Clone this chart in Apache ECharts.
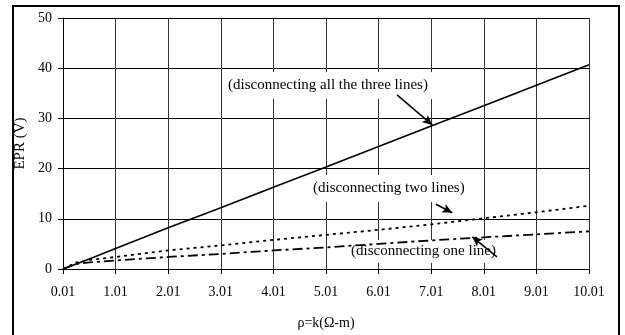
<!DOCTYPE html>
<html>
<head>
<meta charset="utf-8">
<script src="https://cdn.jsdelivr.net/npm/echarts@6/dist/echarts.min.js"></script>
<style>
  html, body { margin: 0; padding: 0; background: #fff; }
  #main { width: 625px; height: 335px; }
</style>
</head>
<body>
<div id="main"></div>
<script>
// soil resistivity (k ohm-m) and EPR (V)
var rho = [0.01, 0.26, 0.51, 1.01, 2.01, 3.01, 4.01, 5.01, 6.01, 7.01, 8.01, 9.01, 10.01];
var allThree = [0, 1.0, 2.0, 4.1, 8.2, 12.2, 16.3, 20.3, 24.4, 28.5, 32.5, 36.6, 40.7];
var twoLines = [0, 1.3, 1.8, 2.4, 3.7, 4.7, 5.8, 6.8, 7.8, 8.9, 10.1, 11.3, 12.6];
var oneLine = [0, 1.0, 1.3, 1.7, 2.4, 3.0, 3.7, 4.3, 5.0, 5.7, 6.3, 6.9, 7.5];
var xTicks = ['0.01', '1.01', '2.01', '3.01', '4.01', '5.01', '6.01', '7.01', '8.01', '9.01', '10.01'];

var font = 'Liberation Serif';
var chart = echarts.init(document.getElementById('main'));

// x is drawn shifted by 0.01 so ticks fall on 0, 1, 2 ...
function pts(vals) {
  return rho.map(function (r, i) { return [+(r - 0.01).toFixed(2), vals[i]]; });
}

function arrow(a, b) {
  return {
    silent: true,
    symbol: ['none', 'arrow'],
    symbolSize: [7, 10],
    label: { show: false },
    lineStyle: { color: '#000', type: 'solid', width: 1.5 },
    data: [[{ coord: a }, { coord: b }]]
  };
}

var option = {
  animation: false,
  textStyle: { fontFamily: font },
  grid: { left: 63, right: 36, top: 18, bottom: 66 },
  xAxis: {
    type: 'value', min: 0, max: 10, interval: 1,
    name: 'ρ=k(Ω-m)', nameLocation: 'middle', nameGap: 47,
    nameTextStyle: { fontFamily: font, fontSize: 14, color: '#000' },
    axisLine: { lineStyle: { color: '#000', width: 1 } },
    axisTick: { show: true, length: 5, lineStyle: { color: '#000' } },
    axisLabel: {
      fontFamily: font, fontSize: 14, color: '#000', margin: 16,
      formatter: function (v) { return xTicks[Math.round(v)]; }
    },
    splitLine: { show: true, lineStyle: { color: '#333', width: 1 } }
  },
  yAxis: {
    type: 'value', min: 0, max: 50, interval: 10,
    name: 'EPR (V)', nameLocation: 'middle', nameGap: 34,
    nameTextStyle: { fontFamily: font, fontSize: 15, color: '#000' },
    axisLine: { show: true, lineStyle: { color: '#000', width: 1 } },
    axisTick: { show: true, length: 5, lineStyle: { color: '#000' } },
    axisLabel: { fontFamily: font, fontSize: 14, color: '#000', margin: 11 },
    splitLine: { show: true, lineStyle: { color: '#000', width: 1 } }
  },
  series: [
    {
      name: 'all three', type: 'line', data: pts(allThree), showSymbol: false,
      lineStyle: { color: '#000', width: 1.6 },
      markLine: arrow([6.35, 34.7], [7.02, 28.7])
    },
    {
      name: 'two', type: 'line', data: pts(twoLines), showSymbol: false,
      lineStyle: { color: '#000', width: 1.8, type: [3, 4] },
      markLine: arrow([7.09, 12.9], [7.40, 11.2])
    },
    {
      name: 'one', type: 'line', data: pts(oneLine), showSymbol: false,
      lineStyle: { color: '#000', width: 1.8, type: [10, 4, 3, 4] },
      markLine: arrow([8.25, 2.4], [7.78, 6.4])
    }
  ],
  graphic: [
    {
      type: 'rect', z: 0, silent: true,
      shape: { x: 13, y: 6, width: 606, height: 340 },
      style: { fill: 'none', stroke: '#000', lineWidth: 2 }
    },
    {
      type: 'text', z: 3, left: 222, top: 72, silent: true,
      style: {
        text: '(disconnecting all the three lines)', font: '15px "Liberation Serif"',
        fill: '#000', backgroundColor: '#fff', padding: [6, 6, 6, 6]
      }
    },
    {
      type: 'text', z: 3, left: 307, top: 175, silent: true,
      style: {
        text: '(disconnecting two lines)', font: '15px "Liberation Serif"',
        fill: '#000', backgroundColor: '#fff', padding: [6, 6, 6, 6]
      }
    },
    {
      type: 'text', z: 3, left: 345, top: 240, silent: true,
      style: {
        text: '(disconnecting one line)', font: '15px "Liberation Serif"',
        fill: '#000', backgroundColor: '#fff', padding: [4, 6, 4, 6]
      }
    }
  ]
};

chart.setOption(option);
</script>
</body>
</html>
